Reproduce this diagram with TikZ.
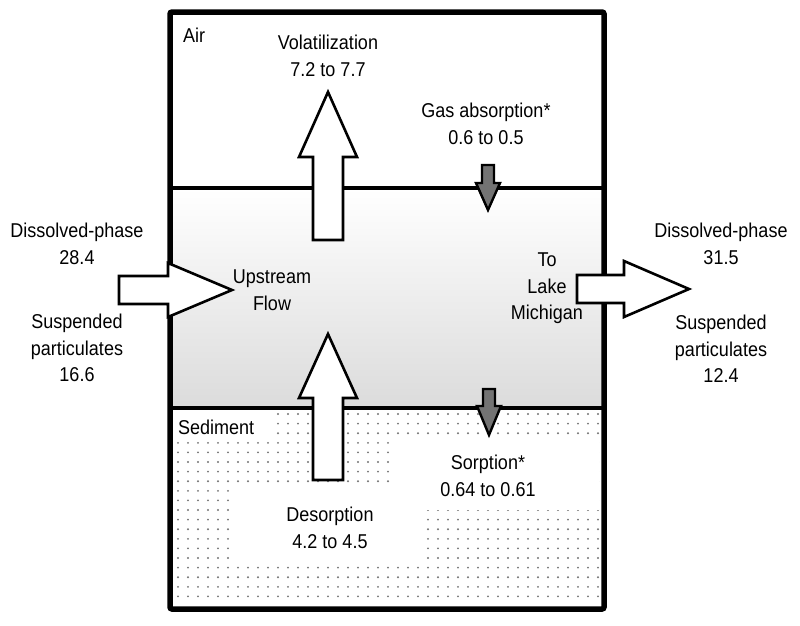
\documentclass[tikz,border=0pt]{standalone}
\usepackage{fontspec}
\setmainfont{Liberation Sans}[FakeStretch=0.9]
\definecolor{dotgray}{gray}{0.45}
\definecolor{flowgray}{gray}{0.45}
\begin{document}
\begin{tikzpicture}[x=1pt,y=-1pt]
	\tikzstyle{txt}=[font=\fontsize{20}{26.5}\selectfont, align=center, inner sep=0pt, anchor=north]
	\tikzstyle{bigarrow}=[draw=black, fill=white, line width=2.6pt, line join=miter]
	\tikzstyle{smallarrow}=[draw=black, fill=flowgray, line width=2.4pt, line join=miter]
	\tikzstyle{divider}=[line width=4pt]
	\useasboundingbox (0,0) rectangle (800,625);
	% Water column
	\shade[top color=white, bottom color=black!14] (170,188) rectangle (604,408);
	% Sediment dots
	\foreach \j in {0,...,19}
		\foreach \i in {0,...,42}
			\fill[dotgray] ({178+\i*10}, 414+\j*9.6) circle (1.05);
	% white areas round the sediment texts
	\fill[white] (173,410) rectangle (272,441);
	\fill[white] (390,441) rectangle (599,510);
	\fill[white] (236,489) rectangle (426,561);
	%---------------------%
	% Air / water / sediment
	\coordinate (wtop_l) at (170,188);
	\coordinate (wtop_r) at (604,188);
	\coordinate (wbot_l) at (170,408);
	\coordinate (wbot_r) at (604,408);
	\draw[divider] (wtop_l) -- (wtop_r);
	\draw[divider] (wbot_l) -- (wbot_r);
	\draw[line width=5.5pt, rounded corners=2pt] (170,12) rectangle (604,609);
	%---------------------%
	% Volatilization
	\draw[bigarrow] (313,240) -- (313,157) -- (299,157) -- (328,92) -- (357,157) -- (343,157) -- (343,240) -- cycle;
	% Desorption
	\draw[bigarrow] (313,480) -- (313,398) -- (299,398) -- (328,334) -- (357,398) -- (343,398) -- (343,480) -- cycle;
	% Upstream flow
	\draw[bigarrow] (119,276) -- (168,276) -- (168,263) -- (232,290) -- (168,317) -- (168,304) -- (119,304) -- cycle;
	% To Lake Michigan
	\draw[bigarrow] (577,275) -- (624,275) -- (624,261) -- (689,289) -- (624,317) -- (624,303) -- (577,303) -- cycle;
	% Gas absorption
	\draw[smallarrow] (482,165) -- (494,165) -- (494,183) -- (500,183) -- (488,210) -- (476,183) -- (482,183) -- cycle;
	% Sorption
	\draw[smallarrow] (483,389) -- (495,389) -- (495,406) -- (501,406) -- (489,435) -- (477,406) -- (483,406) -- cycle;
	%---------------------%
	\node[txt, anchor=north west] (air) at (183,28) {Air};
	\node[txt] (volat) at (328,35) {Volatilization\\7.2 to 7.7};
	\node[txt] (gasabs) at (486,103) {Gas absorption*\\0.6 to 0.5};
	\node[txt] (in_diss) at (77,223) {Dissolved-phase\\28.4};
	\node[txt] (in_susp) at (77,314) {Suspended\\particulates\\16.6};
	\node[txt] (upflow) at (272,270) {Upstream\\Flow};
	\node[txt] (tolake) at (547,253) {To\\Lake\\Michigan};
	\node[txt] (out_diss) at (721,223) {Dissolved-phase\\31.5};
	\node[txt] (out_susp) at (721,315) {Suspended\\particulates\\12.4};
	\node[txt, anchor=north west] (sediment) at (178,420) {Sediment};
	\node[txt] (sorp) at (488,455) {Sorption*\\0.64 to 0.61};
	\node[txt] (desorp) at (330,507) {Desorption\\4.2 to 4.5};
\end{tikzpicture}
\end{document}
